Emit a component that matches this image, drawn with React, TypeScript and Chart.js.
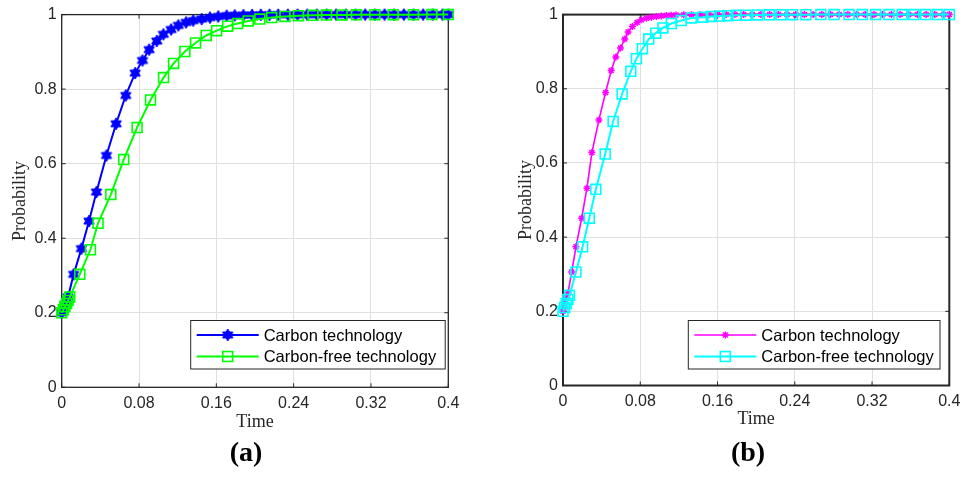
import React, { useEffect, useRef } from 'react';
import { Chart, registerables } from 'chart.js';
Chart.register(...registerables);

// ---------- data ----------
const xTickValues = [0, 0.08, 0.16, 0.24, 0.32, 0.4];
const xTickLabels = ['0', '0.08', '0.16', '0.24', '0.32', '0.4'];
const yTickValues = [0, 0.2, 0.4, 0.6, 0.8, 1];
const yTickLabels = ['0', '0.2', '0.4', '0.6', '0.8', '1'];
const seriesNames = ['Carbon technology', 'Carbon-free technology'];

// panel (a)
const timeCarbonA = [0, 0.0013, 0.0026, 0.0039, 0.0052, 0.0065, 0.0124, 0.0204, 0.0283, 0.036, 0.0463, 0.0563, 0.0663, 0.076, 0.0836, 0.0905, 0.0984, 0.1052, 0.1132, 0.1207, 0.1287, 0.1361, 0.1448, 0.1534, 0.162, 0.1707, 0.179, 0.188, 0.197, 0.206, 0.215, 0.224, 0.234, 0.244, 0.254, 0.264, 0.274, 0.284, 0.294, 0.304, 0.314, 0.324, 0.334, 0.344, 0.354, 0.364, 0.374, 0.384, 0.394, 0.4];
const probCarbonA = [0.2, 0.207, 0.215, 0.224, 0.233, 0.242, 0.303, 0.372, 0.446, 0.524, 0.622, 0.707, 0.783, 0.843, 0.877, 0.906, 0.929, 0.947, 0.96, 0.971, 0.979, 0.984, 0.988, 0.992, 0.995, 0.997, 0.998, 0.9985, 0.999, 0.9993, 0.9995, 0.9996, 0.9997, 0.9998, 0.9999, 0.9999, 1, 1, 1, 1, 1, 1, 1, 1, 1, 1, 1, 1, 1, 1];
const timeFreeA = [0, 0.0017, 0.0033, 0.005, 0.0066, 0.0083, 0.0187, 0.0297, 0.0376, 0.0508, 0.0642, 0.078, 0.0919, 0.1054, 0.1158, 0.1275, 0.1385, 0.1495, 0.1603, 0.1717, 0.182, 0.193, 0.205, 0.2173, 0.231, 0.245, 0.26, 0.274, 0.29, 0.305, 0.324, 0.343, 0.364, 0.383, 0.4];
const probFreeA = [0.2, 0.208, 0.216, 0.225, 0.233, 0.242, 0.303, 0.369, 0.44, 0.517, 0.611, 0.697, 0.771, 0.831, 0.869, 0.901, 0.924, 0.944, 0.957, 0.969, 0.976, 0.983, 0.988, 0.992, 0.995, 0.997, 0.998, 0.9987, 0.9992, 0.9995, 0.9997, 0.9998, 0.9999, 1, 1];

// panel (b)
const timeCarbonB = [0, 0.0013, 0.0026, 0.0039, 0.0052, 0.009, 0.0134, 0.0193, 0.0248, 0.0299, 0.0372, 0.0441, 0.0499, 0.0547, 0.0595, 0.064, 0.0674, 0.0719, 0.0767, 0.0812, 0.0864, 0.0915, 0.0967, 0.1018, 0.107, 0.112, 0.117, 0.125, 0.133, 0.142, 0.151, 0.16, 0.169, 0.178, 0.187, 0.196, 0.205, 0.214, 0.223, 0.232, 0.241, 0.25, 0.259, 0.268, 0.277, 0.286, 0.295, 0.304, 0.313, 0.322, 0.331, 0.34, 0.349, 0.358, 0.367, 0.376, 0.385, 0.394, 0.4];
const probCarbonB = [0.2, 0.212, 0.224, 0.237, 0.25, 0.306, 0.374, 0.451, 0.532, 0.628, 0.716, 0.79, 0.849, 0.886, 0.91, 0.934, 0.953, 0.968, 0.979, 0.986, 0.99, 0.993, 0.995, 0.9965, 0.9975, 0.9983, 0.9988, 0.9993, 0.9996, 0.9998, 0.9999, 1, 1, 1, 1, 1, 1, 1, 1, 1, 1, 1, 1, 1, 1, 1, 1, 1, 1, 1, 1, 1, 1, 1, 1, 1, 1, 1, 1];
const timeFreeB = [0, 0.0017, 0.0033, 0.005, 0.0067, 0.0134, 0.0203, 0.0272, 0.034, 0.0437, 0.0519, 0.0612, 0.0702, 0.076, 0.0822, 0.0888, 0.096, 0.1035, 0.1122, 0.1225, 0.1328, 0.1448, 0.1535, 0.162, 0.1706, 0.1793, 0.1896, 0.2015, 0.2136, 0.2257, 0.2377, 0.2515, 0.267, 0.2807, 0.2962, 0.3099, 0.3237, 0.3375, 0.3512, 0.3633, 0.3755, 0.3878, 0.4];
const probFreeB = [0.2, 0.21, 0.221, 0.232, 0.243, 0.306, 0.374, 0.451, 0.529, 0.624, 0.712, 0.786, 0.847, 0.881, 0.908, 0.934, 0.95, 0.964, 0.976, 0.984, 0.991, 0.993, 0.995, 0.996, 0.997, 0.998, 0.9985, 0.999, 0.9994, 0.9996, 0.9998, 0.9999, 1, 1, 1, 1, 1, 1, 1, 1, 1, 1, 1];

// ---------- helpers ----------
const TICK_FONT = { family: '"Liberation Sans", Arial, sans-serif', size: 16 };
const TITLE_FONT = { family: '"Liberation Serif", "Times New Roman", serif', size: 18 };
const AXIS_COLOR = '#262626';

function makeHexagram(color: string, r: number) {
  const size = Math.ceil(r * 2 + 4);
  const c = document.createElement('canvas');
  c.width = size;
  c.height = size;
  const g = c.getContext('2d')!;
  const cx = size / 2, cy = size / 2;
  g.fillStyle = color;
  g.strokeStyle = color;
  g.lineWidth = 1;
  g.beginPath();
  for (let i = 0; i < 12; i++) {
    const ang = -Math.PI / 2 + (i * Math.PI) / 6;
    const rr = i % 2 === 0 ? r : r * 0.577;
    g.lineTo(cx + rr * Math.cos(ang), cy + rr * Math.sin(ang));
  }
  g.closePath();
  g.fill();
  g.stroke();
  return c;
}

type SeriesDef = {
  name: string;
  t: number[];
  p: number[];
  color: string;
  lineWidth: number;
  pointStyle: any;
  radius: number;
  pointWidth: number;
  order: number;
};

type PanelDef = {
  left: number;
  width: number;
  area: { left: number; right: number; top: number; bottom: number };
  frameWidth: number;
  yTitleOffset: number;
  xTitleOffset: number;
  xTickPad: number;
  legend: { x: number; y: number; w: number; h: number };
  series: SeriesDef[];
};

function drawMarker(ctx: CanvasRenderingContext2D, s: SeriesDef, x: number, y: number) {
  if (s.pointStyle instanceof HTMLCanvasElement) {
    ctx.drawImage(s.pointStyle, x - s.pointStyle.width / 2, y - s.pointStyle.height / 2);
    return;
  }
  ctx.save();
  ctx.strokeStyle = s.color;
  ctx.lineWidth = s.pointWidth;
  if (s.pointStyle === 'rect') {
    const h = s.radius * Math.SQRT1_2;
    ctx.strokeRect(x - h, y - h, 2 * h, 2 * h);
  } else {
    const r = s.radius;
    const d = r * Math.SQRT1_2;
    ctx.beginPath();
    ctx.moveTo(x - r, y); ctx.lineTo(x + r, y);
    ctx.moveTo(x, y - r); ctx.lineTo(x, y + r);
    ctx.moveTo(x - d, y - d); ctx.lineTo(x + d, y + d);
    ctx.moveTo(x - d, y + d); ctx.lineTo(x + d, y - d);
    ctx.stroke();
  }
  ctx.restore();
}

function Panel({ def }: { def: PanelDef }) {
  const ref = useRef<HTMLCanvasElement>(null);
  useEffect(() => {
    const canvas = ref.current!;
    const H = 478;
    const frame = {
      id: 'frame',
      beforeDatasetsDraw(chart: any) {
        const { ctx, chartArea, scales } = chart;
        const { left, right, top, bottom } = chartArea;
        ctx.save();
        ctx.strokeStyle = AXIS_COLOR;
        ctx.lineWidth = def.frameWidth;
        ctx.strokeRect(left, top, right - left, bottom - top);
        ctx.lineWidth = 1;
        ctx.beginPath();
        const tl = 4;
        xTickValues.forEach((v) => {
          const px = scales.x.getPixelForValue(v);
          ctx.moveTo(px, bottom); ctx.lineTo(px, bottom - tl);
          ctx.moveTo(px, top); ctx.lineTo(px, top + tl);
        });
        yTickValues.forEach((v) => {
          const py = scales.y.getPixelForValue(v);
          ctx.moveTo(left, py); ctx.lineTo(left + tl, py);
          ctx.moveTo(right, py); ctx.lineTo(right - tl, py);
        });
        ctx.stroke();
        ctx.restore();
      },
    };
    const legend = {
      id: 'customLegend',
      afterDraw(chart: any) {
        const { ctx } = chart;
        const L = def.legend;
        ctx.save();
        ctx.fillStyle = '#ffffff';
        ctx.fillRect(L.x, L.y, L.w, L.h);
        ctx.strokeStyle = AXIS_COLOR;
        ctx.lineWidth = 1;
        ctx.strokeRect(L.x, L.y, L.w, L.h);
        const rows = [14.5, 36];
        def.series.forEach((s, i) => {
          const y = L.y + rows[i];
          ctx.strokeStyle = s.color;
          ctx.lineWidth = s.lineWidth;
          ctx.beginPath();
          ctx.moveTo(L.x + 6, y);
          ctx.lineTo(L.x + 68, y);
          ctx.stroke();
          drawMarker(ctx, s, L.x + 37, y);
          ctx.fillStyle = '#000000';
          ctx.font = '16.5px "Liberation Sans", Arial, sans-serif';
          ctx.textBaseline = 'middle';
          ctx.textAlign = 'left';
          ctx.fillText(s.name, L.x + 73, y + 1);
        });
        ctx.restore();
      },
    };
    const chart = new Chart(canvas, {
      type: 'line',
      data: {
        datasets: def.series.map((s) => ({
          label: s.name,
          data: s.t.map((t, i) => ({ x: t, y: s.p[i] })),
          borderColor: s.color,
          borderWidth: s.lineWidth,
          backgroundColor: 'rgba(0,0,0,0)',
          pointStyle: s.pointStyle,
          pointRadius: s.radius,
          pointBorderColor: s.color,
          pointBackgroundColor: 'rgba(0,0,0,0)',
          pointBorderWidth: s.pointWidth,
          tension: 0,
          clip: false,
          order: s.order,
        })),
      },
      options: {
        responsive: false,
        animation: false,
        devicePixelRatio: 1,
        layout: {
          padding: {
            left: 0,
            top: def.area.top,
            right: def.width - def.area.right,
            bottom: 0,
          },
        },
        plugins: { legend: { display: false }, tooltip: { enabled: false } },
        scales: {
          x: {
            type: 'linear',
            min: 0,
            max: 0.4,
            afterBuildTicks: (scale: any) => {
              scale.ticks = xTickValues.map((v) => ({ value: v }));
            },
            afterFit: (scale: any) => {
              scale.height = H - def.area.bottom;
            },
            ticks: {
              autoSkip: false,
              maxRotation: 0,
              padding: def.xTickPad,
              color: AXIS_COLOR,
              font: TICK_FONT,
              callback: (_v: any, i: number) => xTickLabels[i],
            },
            grid: { color: '#dfdfdf', lineWidth: 1, drawTicks: false },
            border: { display: false },
            title: {
              display: true,
              text: 'Time',
              color: AXIS_COLOR,
              font: TITLE_FONT,
              padding: { top: 0, bottom: def.xTitleOffset },
            },
          },
          y: {
            type: 'linear',
            min: 0,
            max: 1,
            afterBuildTicks: (scale: any) => {
              scale.ticks = yTickValues.map((v) => ({ value: v }));
            },
            afterFit: (scale: any) => {
              scale.width = def.area.left;
            },
            ticks: {
              autoSkip: false,
              padding: 5,
              color: AXIS_COLOR,
              font: TICK_FONT,
              callback: (_v: any, i: number) => yTickLabels[i],
            },
            grid: { color: '#dfdfdf', lineWidth: 1, drawTicks: false },
            border: { display: false },
            title: {
              display: true,
              text: 'Probability',
              color: AXIS_COLOR,
              font: TITLE_FONT,
              padding: { top: def.yTitleOffset, bottom: 0 },
            },
          },
        },
      },
      plugins: [frame, legend],
    } as any);
    return () => chart.destroy();
  }, [def]);
  return (
    <canvas
      ref={ref}
      width={def.width}
      height={478}
      style={{ position: 'absolute', left: def.left, top: 0, width: def.width, height: 478 }}
    />
  );
}

export default function App() {
  const defs = React.useMemo(() => {
    const blueStar = makeHexagram('#0000ff', 6);
    const a: PanelDef = {
      left: 0,
      width: 486,
      area: { left: 61.7, right: 448.3, top: 14, bottom: 387.3 },
      frameWidth: 1.3,
      yTitleOffset: 9.2,
      xTitleOffset: 45.2,
      xTickPad: 7,
      legend: { x: 190.7, y: 320.5, w: 254.5, h: 48.5 },
      series: [
        { name: seriesNames[0], t: timeCarbonA, p: probCarbonA, color: '#0000ff', lineWidth: 2, pointStyle: blueStar, radius: 6, pointWidth: 1, order: 1 },
        { name: seriesNames[1], t: timeFreeA, p: probFreeA, color: '#00ff00', lineWidth: 2, pointStyle: 'rect', radius: 7, pointWidth: 1.6, order: 0 },
      ],
    };
    const b: PanelDef = {
      left: 486,
      width: 487,
      area: { left: 77, right: 463.3, top: 14.5, bottom: 385.5 },
      frameWidth: 2,
      yTitleOffset: 29.2,
      xTitleOffset: 48.2,
      xTickPad: 6.5,
      legend: { x: 202.3, y: 320.5, w: 251.7, h: 48.5 },
      series: [
        { name: seriesNames[0], t: timeCarbonB, p: probCarbonB, color: '#ff00ff', lineWidth: 1.6, pointStyle: 'star', radius: 3.5, pointWidth: 1.5, order: 1 },
        { name: seriesNames[1], t: timeFreeB, p: probFreeB, color: '#00ffff', lineWidth: 2, pointStyle: 'rect', radius: 7, pointWidth: 1.6, order: 0 },
      ],
    };
    return [a, b];
  }, []);
  const labelStyle: React.CSSProperties = {
    position: 'absolute',
    top: 437.5,
    width: 100,
    textAlign: 'center',
    font: 'bold 28px "Liberation Serif", "Times New Roman", serif',
    lineHeight: '28px',
    color: '#000',
  };
  return (
    <div style={{ position: 'fixed', left: 0, top: 0, width: 973, height: 478, background: '#fff', overflow: 'hidden' }}>
      <Panel def={defs[0]} />
      <Panel def={defs[1]} />
      <div style={{ ...labelStyle, left: 246 - 50 }}>(a)</div>
      <div style={{ ...labelStyle, left: 748 - 50 }}>(b)</div>
    </div>
  );
}
